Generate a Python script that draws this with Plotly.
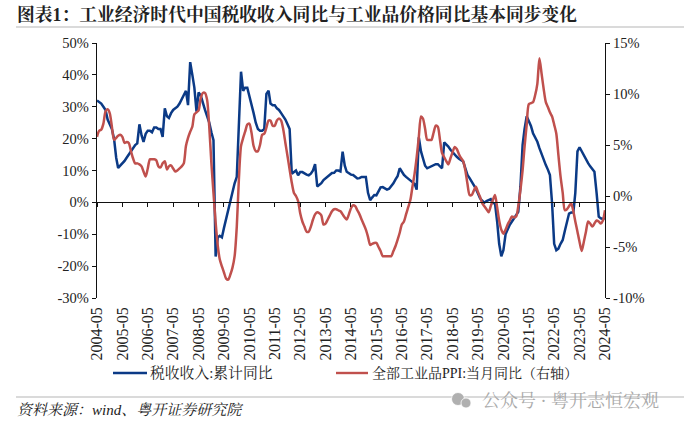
import plotly.graph_objects as go
import pandas as pd

months = pd.date_range("2004-05-01", "2024-05-01", freq="MS")

tax_revenue_yoy = [
    32, 31.5, 31, 30, 29, 26, 24.5, 23, 20, 14, 10.8, 11.5,
    12, 13, 14, 15, 16, 17, 18, 18.5, 24.5, 21, 19, 21.5,
    22.5, 22.5, 22, 23.5, 23.5, 23, 23, 20.5, 29.5, 27, 26.5, 28,
    29, 29.5, 30, 31, 32.5, 34, 35, 30.5, 44, 40, 36, 28.5,
    34.5, 33.5, 31, 29, 27, 25, 22, 19.5, -17, -11, -10.5, -11,
    -8, -5, -2, 1, 3.5, 6, 8, 25, 41, 35, 36, 36,
    33, 30, 28, 25, 23, 22.5, 22.5, 23, 34, 35, 31, 30.5,
    30.5, 29.5, 29, 28, 27, 26, 24.5, 23, 9, 9.5, 10, 8.5,
    9.5, 9.5, 9, 8.7, 8.5, 9, 10, 12, 5, 5.5, 6, 7,
    7.5, 8, 8.6, 9.2, 9.3, 10, 10, 9.7, 15.9, 11.5, 9.6, 9.2,
    8.7, 8.6, 8, 7.5, 7.6, 8, 8, 8, 3, 0.7, 1.5, 2.3,
    2.2, 3.4, 4.7, 4.8, 4.4, 4, 4.3, 5, 6, 7.2, 8.2, 10.7,
    9.6, 8.6, 8, 7.4, 7, 6.5, 5.8, 4, 20.4, 16, 14, 11.5,
    10.7, 11, 11.3, 11.6, 12, 12, 11.3, 10.7, 18.8, 18.2, 17.5, 16.5,
    15.7, 15, 14.3, 13.7, 13.2, 12.8, 10.7, 8.6, 7.6, 6.6, 5.5, 4.3,
    2.8, 1.3, 0.5, -0.1, 0.4, 0.7, 1, -0.2, -0.3, -6, -13, -16.9,
    -15, -10, -8.3, -7, -6, -5, -4, -3, 5, 18, 23, 27,
    25.5, 24, 21.7, 20.5, 19, 17, 15, 13.5, 11.7, 10.2, 8.6, -0.3,
    -13, -15, -14.5, -13, -11.8, -9, -6.5, -3.5, -3.2, -3.2, 3, 16,
    17.3, 16, 14.5, 13.3, 12.3, 11.3, 10.4, 9.6, 3, -4.5, -5, -5.2, -5,
]

ppi_yoy = [
    5.8, 6.4, 6.5, 7.1, 8.3, 8.5, 8.1, 6.8, 5.5, 5.7, 5.9, 6.0,
    5.8, 5.2, 5.3, 5.2, 4.4, 3.7, 3.2, 3.2, 3.1, 2.9, 2.4, 1.9,
    2.7, 3.6, 3.6, 3.6, 3.5, 2.9, 2.8, 3.2, 3.4, 2.6, 2.9, 3.0,
    2.7, 2.4, 2.5, 2.7, 2.9, 3.2, 4.9, 5.7, 6.3, 6.8, 8.0, 8.2,
    8.4, 9.6, 10.1, 10.1, 9.4, 6.8, 3.2, 0.3, -2.6, -4.9, -6.2, -6.9,
    -7.5, -8.1, -8.2, -7.7, -7, -5.9, -3, 1.6, 4.9, 5.7, 6.3, 7.0,
    7.1, 6.2, 4.9, 4.4, 4.4, 5, 6, 6.1, 6.7, 7.4, 7.4, 6.9,
    6.9, 7.4, 7.6, 7.4, 6.5, 5.2, 3.9, 2.6, 1.3, 0.3, 0, -0.5,
    -1.7, -2.5, -3, -3.5, -3.5, -3, -2.3, -1.8, -1.6, -1.7, -1.9, -2.8,
    -2.7, -2.3, -1.9, -1.5, -1.3, -1.3, -1.4, -1.5, -1.8, -2.1, -2.3, -1.8,
    -1.2, -0.9, -1, -1.4, -1.8, -2.3, -2.8, -3.3, -4, -4.8, -4.7, -4.6,
    -4.6, -5, -5.4, -5.9, -5.9, -5.9, -5.9, -5.9, -5.4, -4.9, -4.3, -3.6,
    -2.8, -2.5, -1.8, -1.1, -0.4, 0.9, 2.2, 3.8, 5.8, 7.8, 7.6, 6.6,
    5.5, 5.5, 5.5, 6.2, 6.9, 6.8, 5.5, 4.2, 3.8, 3.4, 3.1, 3.7,
    4.3, 4.8, 4.6, 4.1, 3.7, 3.4, 2.5, 1.2, 0.1, 0.1, 0.5, 0.9,
    0.4, -0.1, -0.7, -1.0, -1.3, -1.6, -1, -0.4, 0.1, -1.1, -2.4, -3.3,
    -3.7, -3.3, -2.8, -2.4, -2, -2.1, -2, -1, 0.6, 2.5, 4.8, 7,
    9, 9.1, 9.2, 9.9, 11, 13.5, 12, 10.5, 9.2, 8.7, 8.2, 7.8,
    7, 6.1, 4, 1.9, 0.3, -1.4, -1.3, -1, -0.7, -1.5, -2.5, -3.5,
    -4.5, -5.4, -4.5, -3.5, -2.5, -2.7, -3, -2.7, -2.4, -2.5, -2.7, -2.4, -1.4,
]

left_ticks = [-30, -20, -10, 0, 10, 20, 30, 40, 50]
left_labels = ["-30%", "-20%", "-10%", "0%", "10%", "20%", "30%", "40%", "50%"]
right_ticks = [-10, -5, 0, 5, 10, 15]
right_labels = ["-10%", "-5%", "0%", "5%", "10%", "15%"]

title_text = "图表1\uff1a工业经济时代中国税收收入同比与工业品价格同比基本同步变化"
source_text = "资料来源\uff1awind、粤开证券研究院"
watermark_text = "公众号 · 粤开志恒宏观"
tax_name = "税收收入:累计同比"
ppi_name = "全部工业品PPI:当月同比\uff08右轴\uff09"

W, H = 700, 429
L, R, T, B = 97, 605, 43, 298
FONT = "Liberation Serif, Noto Serif CJK SC, Noto Sans CJK SC"
INK = "#222222"
BLUE = "#0b3a86"
RED = "#c0504d"

fig = go.Figure()
fig.add_trace(go.Scatter(x=months, y=tax_revenue_yoy, name=tax_name, mode="lines",
                         line=dict(color=BLUE, width=2.5), xaxis="x", yaxis="y"))
fig.add_trace(go.Scatter(x=months, y=ppi_yoy, name=ppi_name, mode="lines",
                         line=dict(color=RED, width=2.5, shape="spline", smoothing=0.7),
                         xaxis="x2", yaxis="y2"))


def paper_x(px):
    return (px - L) / (R - L)


def paper_y(py):
    return (B - py) / (B - T)


x_range = [months[0], months[-1]]
tick_font = dict(family=FONT, size=14.5, color=INK)
fig.update_layout(
    width=W, height=H,
    showlegend=False,
    margin=dict(l=L, r=W - R, t=T, b=H - B, pad=0),
    paper_bgcolor="white", plot_bgcolor="white",
    font=dict(family=FONT, color=INK),
    xaxis=dict(type="date", range=x_range, tick0="2004-05-01", dtick="M12",
               tickformat="%Y-%m", tickangle=-90,
               tickfont=dict(family=FONT, size=16, color=INK),
               showgrid=False, showline=False, ticks="", zeroline=False,
               anchor="y", side="bottom", ticklabelstandoff=5),
    xaxis2=dict(type="date", range=x_range, tick0="2004-05-01", dtick="M12",
                overlaying="x", anchor="free", position=paper_y(202),
                showticklabels=False, showgrid=False, zeroline=False,
                showline=True, linecolor="#111111", linewidth=1.3,
                ticks="outside", ticklen=4, tickwidth=1.2, tickcolor="#111111"),
    yaxis=dict(range=[-30, 50], tickmode="array", tickvals=left_ticks, ticktext=left_labels,
               tickfont=tick_font, showgrid=False, zeroline=False, showline=True,
               linecolor="#111111", linewidth=1.3, ticks="outside", ticklen=4,
               tickwidth=1.2, tickcolor="#111111"),
    yaxis2=dict(range=[-10, 15], tickmode="array", tickvals=right_ticks, ticktext=right_labels,
                tickfont=tick_font, overlaying="y", side="right", anchor="x",
                showgrid=False, zeroline=False, showline=True, linecolor="#111111",
                linewidth=1.3, ticks="outside", ticklen=4, tickwidth=1.2, tickcolor="#111111"),
)


def note(px, py, text, size, color=INK, bold=False, italic=False):
    label = f"<b>{text}</b>" if bold else text
    label = f"<i>{label}</i>" if italic else label
    fig.add_annotation(xref="paper", yref="paper", x=paper_x(px), y=paper_y(py),
                       xanchor="left", yanchor="middle", text=label, showarrow=False,
                       font=dict(family=FONT, size=size, color=color))


def key(x0, x1, py, color):
    fig.add_shape(type="line", xref="paper", yref="paper", x0=paper_x(x0), x1=paper_x(x1),
                  y0=paper_y(py), y1=paper_y(py), line=dict(color=color, width=2.4))


note(15, 15, title_text, 17.8, bold=True)
note(15, 410, source_text, 15, italic=True)
note(480, 401, watermark_text, 18, color="#a9a9a9")

key(113, 147, 373, BLUE)
note(148, 373, tax_name, 14.8)
key(336, 368, 373, RED)
note(370, 373, ppi_name, 14)

for py in (27, 397):
    fig.add_shape(type="line", xref="paper", yref="paper", x0=paper_x(16), x1=paper_x(684),
                  y0=paper_y(py), y1=paper_y(py), line=dict(color="#b5b5b5", width=1.2))

for cx, cy, r in ((458, 399, 6.5), (466, 403, 5)):
    fig.add_shape(type="circle", xref="paper", yref="paper", x0=paper_x(cx - r), x1=paper_x(cx + r),
                  y0=paper_y(cy - r), y1=paper_y(cy + r), fillcolor="#b0b0b0",
                  line=dict(color="white", width=0.8))

fig.write_html("out.html", config={"displayModeBar": False},
               post_script="document.body.style.margin='0';")
